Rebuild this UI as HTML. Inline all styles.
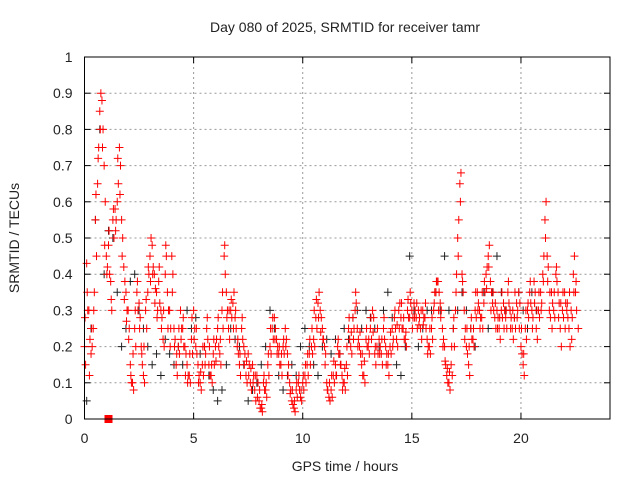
<!DOCTYPE html>
<html><head><meta charset="utf-8">
<style>
body{margin:0;background:#fff;}
svg text{font-family:"Liberation Sans",sans-serif;font-size:14px;fill:#222;}
</style></head>
<body>
<svg width="640" height="480" viewBox="0 0 640 480">
<text x="345" y="32" text-anchor="middle">Day 080 of 2025, SRMTID for receiver tamr</text>
<text x="345" y="471" text-anchor="middle">GPS time / hours</text>
<text transform="translate(19,238) rotate(-90)" text-anchor="middle">SRMTID / TECUs</text>
<g id="grid"></g>
<g id="ticks"></g>
<g id="black"></g>
<g id="red"></g>
<rect x="84.5" y="57" width="525.5" height="362" fill="none" stroke="#000" stroke-width="1"/>
</svg>
<script>
const xTicks=[0,5,10,15,20];
const yTicks=[0,0.1,0.2,0.3,0.4,0.5,0.6,0.7,0.8,0.9,1];
const yTickLabels=["0","0.1","0.2","0.3","0.4","0.5","0.6","0.7","0.8","0.9","1"];
const redStep=0.1;
const redA=[0.2,0.43,0.3,0.18,0.25,0.55,0.65,0.85,0.88,0.7,0.45,0.48,0.38,0.55,0.58,0.6,0.75,0.55,0.42,0.35,0.3,0.15,0.1,0.25,0.35,0.32,0.2,0.12,0.3,0.35,0.45,0.48,0.4,0.35,0.38,0.3,0.22,0.4,0.35,0.3,0.45,0.25,0.15,0.2,0.3,0.25,0.2,0.15,0.12,0.22,0.3,0.2,0.15,0.1,0.15,0.2,0.25,0.15,0.12,0.18,0.2,0.25,0.18,0.3,0.45,0.35,0.25,0.3,0.32,0.28,0.2,0.15,0.25,0.2,0.12,0.18,0.1,0.15,0.08,0.12,0.05,0.03,0.1,0.08,0.15,0.2,0.25,0.28,0.22,0.18,0.15,0.2,0.25,0.18,0.1,0.05,0.03,0.08,0.1,0.06,0.1,0.12,0.15,0.18,0.2,0.22,0.28,0.32,0.3,0.25,0.2,0.1,0.06,0.08,0.12,0.15,0.2,0.18,0.12,0.1,0.15,0.25,0.2,0.28,0.3,0.25,0.2,0.15,0.12,0.22,0.2,0.25,0.3,0.18,0.2,0.22,0.18,0.25,0.2,0.15,0.2,0.25,0.28,0.22,0.3,0.28,0.25,0.22,0.3,0.28,0.3,0.32,0.28,0.3,0.25,0.3,0.28,0.22,0.2,0.25,0.3,0.35,0.38,0.32,0.25,0.2,0.12,0.1,0.15,0.25,0.3,0.5,0.65,0.4,0.3,0.2,0.15,0.25,0.22,0.3,0.35,0.3,0.28,0.32,0.4,0.45,0.38,0.32,0.28,0.3,0.25,0.3,0.32,0.28,0.35,0.3,0.25,0.28,0.32,0.35,0.2,0.15,0.25,0.3,0.35,0.3,0.38,0.25,0.3,0.35,0.4,0.55,0.45,0.3,0.35,0.3,0.4,0.35,0.25,0.3,0.35,0.3,0.25,0.3,0.4,0.35];
const redB=[0.15,0.3,0.22,0.2,0.35,0.45,0.75,0.9,0.8,0.6,0.42,0.4,0.3,0.5,0.55,0.65,0.7,0.5,0.38,0.3,0.25,0.1,0.08,0.2,0.3,0.28,0.15,0.1,0.25,0.4,0.5,0.42,0.36,0.3,0.32,0.28,0.2,0.45,0.3,0.25,0.4,0.22,0.12,0.18,0.25,0.2,0.18,0.12,0.1,0.18,0.25,0.18,0.12,0.08,0.12,0.18,0.22,0.12,0.1,0.15,0.22,0.2,0.15,0.25,0.4,0.3,0.22,0.28,0.35,0.25,0.18,0.12,0.22,0.18,0.1,0.15,0.08,0.12,0.05,0.1,0.03,0.02,0.08,0.06,0.12,0.18,0.22,0.25,0.2,0.15,0.12,0.18,0.22,0.15,0.08,0.04,0.02,0.06,0.08,0.05,0.08,0.1,0.12,0.15,0.18,0.2,0.25,0.35,0.28,0.22,0.18,0.08,0.05,0.06,0.1,0.12,0.18,0.15,0.1,0.08,0.12,0.22,0.18,0.25,0.32,0.22,0.18,0.12,0.1,0.2,0.18,0.22,0.28,0.15,0.18,0.2,0.15,0.22,0.18,0.12,0.18,0.22,0.25,0.2,0.32,0.25,0.22,0.2,0.28,0.32,0.28,0.3,0.25,0.28,0.22,0.28,0.25,0.2,0.18,0.22,0.35,0.38,0.35,0.3,0.22,0.15,0.1,0.08,0.12,0.2,0.4,0.55,0.68,0.35,0.25,0.18,0.12,0.22,0.2,0.28,0.32,0.28,0.25,0.35,0.42,0.48,0.35,0.3,0.25,0.28,0.22,0.28,0.3,0.25,0.32,0.28,0.22,0.25,0.3,0.32,0.18,0.12,0.22,0.28,0.32,0.28,0.35,0.22,0.28,0.32,0.45,0.6,0.42,0.28,0.32,0.28,0.38,0.32,0.2,0.28,0.32,0.28,0.2,0.28,0.45,0.3];
const redC=[0.28,0.35,0.12,0.25,0.3,0.62,0.72,0.8,0.75,0.48,0.4,0.52,0.33,0.58,0.52,0.72,0.62,0.45,0.33,0.27,0.22,0.12,0.18,0.3,0.38,0.25,0.18,0.2,0.33,0.42,0.38,0.4,0.32,0.28,0.42,0.25,0.3,0.48,0.25,0.2,0.35,0.2,0.18,0.25,0.22,0.28,0.12,0.1,0.18,0.28,0.22,0.25,0.1,0.13,0.2,0.15,0.28,0.2,0.15,0.22,0.16,0.28,0.22,0.35,0.48,0.28,0.3,0.33,0.25,0.3,0.22,0.18,0.28,0.15,0.16,0.12,0.14,0.1,0.12,0.06,0.08,0.04,0.12,0.1,0.18,0.25,0.28,0.22,0.18,0.2,0.18,0.22,0.2,0.12,0.07,0.08,0.05,0.1,0.12,0.08,0.12,0.15,0.18,0.22,0.25,0.3,0.33,0.28,0.24,0.22,0.15,0.08,0.1,0.12,0.16,0.12,0.22,0.15,0.08,0.14,0.2,0.28,0.24,0.22,0.35,0.2,0.24,0.18,0.16,0.25,0.22,0.28,0.24,0.2,0.25,0.18,0.22,0.28,0.15,0.18,0.24,0.2,0.3,0.26,0.25,0.32,0.28,0.24,0.33,0.35,0.25,0.28,0.32,0.26,0.3,0.26,0.32,0.18,0.25,0.28,0.32,0.38,0.3,0.28,0.2,0.16,0.14,0.13,0.2,0.28,0.35,0.45,0.6,0.38,0.22,0.25,0.2,0.28,0.25,0.35,0.3,0.25,0.35,0.38,0.36,0.42,0.3,0.35,0.32,0.25,0.28,0.35,0.25,0.3,0.38,0.25,0.3,0.35,0.28,0.25,0.25,0.18,0.3,0.32,0.38,0.25,0.32,0.3,0.35,0.3,0.38,0.5,0.38,0.35,0.25,0.35,0.42,0.28,0.32,0.35,0.25,0.32,0.35,0.22,0.35,0.38,0.25];
const blackStep=0.2;
const blackVals=[0.05,0.25,0.55,0.8,0.4,0.52,0.5,0.35,0.2,0.25,0.38,0.4,0.3,0.25,0.2,0.15,0.18,0.12,0.22,0.18,0.15,0.2,0.15,0.3,0.25,0.28,0.18,0.2,0.12,0.08,0.05,0.08,0.15,0.25,0.22,0.2,0.15,0.05,0.08,0.1,0.15,0.2,0.3,0.25,0.12,0.08,0.12,0.15,0.12,0.2,0.25,0.2,0.15,0.12,0.2,0.22,0.18,0.22,0.18,0.25,0.22,0.28,0.3,0.25,0.3,0.28,0.25,0.2,0.3,0.35,0.28,0.15,0.12,0.2,0.45,0.3,0.2,0.25,0.3,0.3,0.35,0.3,0.45,0.3,0.25,0.3,0.35,0.3,0.25,0.2,0.3,0.35,0.25,0.35,0.45,0.35,0.3,0.3,0.28,0.35,0.3,0.25,0.35,0.3];
const x0=84.5,x1=610,y0=419,y1=57,xMax=24.08;
const X=v=>x0+v/xMax*(x1-x0);
const Y=v=>y0+v*(y1-y0);
const NS="http://www.w3.org/2000/svg";
function mk(t,a,p){const e=document.createElementNS(NS,t);for(const k in a)e.setAttribute(k,a[k]);p.appendChild(e);return e;}
const grid=document.getElementById('grid'),ticks=document.getElementById('ticks');
yTicks.forEach((v,i)=>{const y=Y(v);
 if(i>0&&i<yTicks.length-1){const l=mk('line',{x1:x0,x2:x1,y1:y,y2:y,stroke:'#999','stroke-dasharray':'2,3'},grid);
 
 }
 mk('line',{x1:x0,x2:x0+6,y1:y,y2:y,stroke:'#000'},ticks);
 mk('line',{x1:x1,x2:x1-6,y1:y,y2:y,stroke:'#000'},ticks);
 const t=mk('text',{x:x0-12,y:y+5,'text-anchor':'end'},ticks);t.textContent=yTickLabels[i];
 
 
});
xTicks.forEach(v=>{const x=X(v);
 if(v>0){const l=mk('line',{x1:x,x2:x,y1:y0,y2:y1,stroke:'#999','stroke-dasharray':'2,3'},grid);
 
 }
 mk('line',{x1:x,x2:x,y1:y0,y2:y0-6,stroke:'#000'},ticks);
 mk('line',{x1:x,x2:x,y1:y1,y2:y1+6,stroke:'#000'},ticks);
 const t=mk('text',{x:x,y:y0+24,'text-anchor':'middle'},ticks);t.textContent=String(v);
 
 
});
function plus(g,x,y,c){mk('path',{d:`M${x-4},${y}h8M${x},${y-4}v8`,stroke:c,'stroke-width':1,fill:'none'},g);}
const bg=document.getElementById('black'),rg=document.getElementById('red');
blackVals.forEach((v,i)=>plus(bg,X(i*blackStep+0.1),Y(v),'#222'));
redA.forEach((v,i)=>plus(rg,X(i*redStep),Y(v),'#f00'));
redB.forEach((v,i)=>plus(rg,X(i*redStep+0.05),Y(v),'#f00'));
redC.forEach((v,i)=>plus(rg,X(i*redStep+0.025),Y(v),'#f00'));
const sq=mk('rect',{x:X(1.1)-4,y:y0-4,width:8,height:8,fill:'#f00'},rg);


</script>
</body></html>
